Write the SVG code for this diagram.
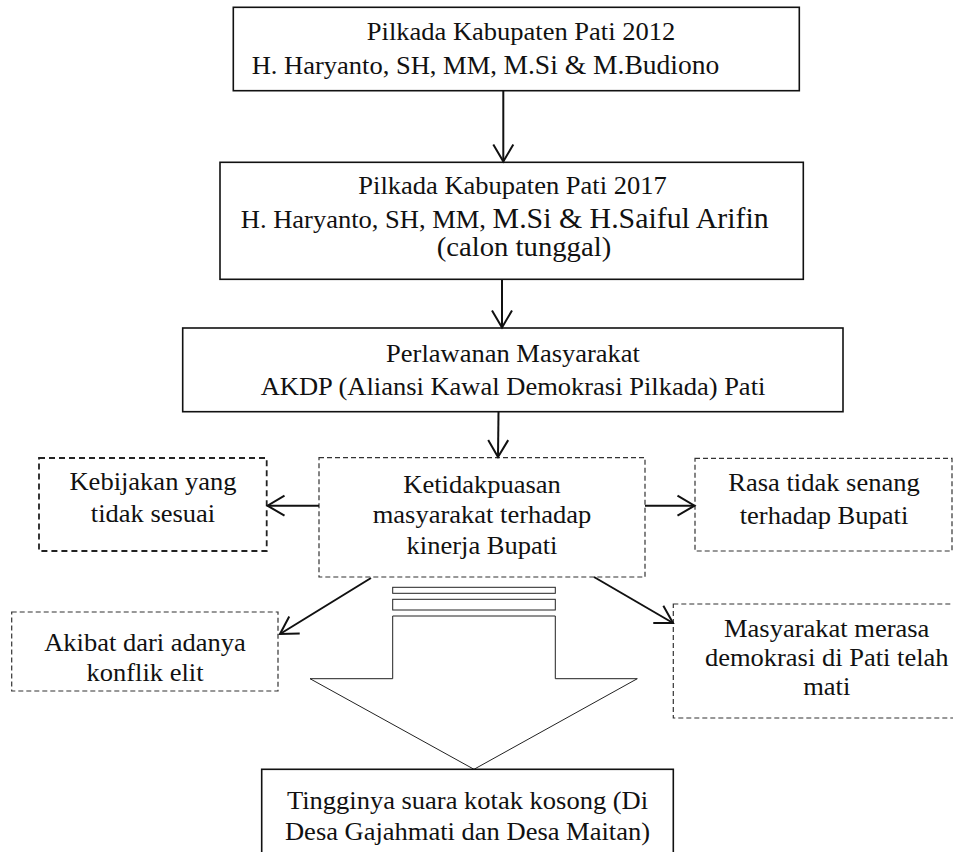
<svg xmlns="http://www.w3.org/2000/svg" width="953" height="852" viewBox="0 0 953 852">
<style>
  .solid { fill: #fff; stroke: #111; stroke-width: 1.6; }
  .dash1 { fill: #fff; stroke: #222; stroke-width: 1.8; stroke-dasharray: 6 4; }
  .dash2 { fill: #fff; stroke: #333; stroke-width: 1.2; stroke-dasharray: 5 3; }
  .t { font-family: "Liberation Serif", "Times New Roman", serif; font-size: 25.5px; fill: #111; text-anchor: middle; }
  .conn { stroke: #111; stroke-width: 2; fill: none; }
  .big { stroke: #222; stroke-width: 1; fill: #fff; }
</style>
<defs>
  <marker id="open" viewBox="-20 -12 22 24" refX="0" refY="0" markerWidth="22" markerHeight="24" markerUnits="userSpaceOnUse" orient="auto">
    <path d="M-17,-10 L0,0 L-17,10" fill="none" stroke="#111" stroke-width="2"/>
  </marker>
</defs>

<g id="node-pilkada2012">
  <rect class="solid" x="233.3" y="7.3" width="566" height="83.4"/>
  <text class="t" transform="translate(521 0) scale(1.04 1)"><tspan x="0" y="40">Pilkada Kabupaten Pati 2012</tspan></text>
  <text class="t" transform="translate(485.5 0) scale(1.04 1)"><tspan x="0" y="74">H. Haryanto, SH, MM, </tspan><tspan font-size="26.5">M.Si &amp; M.Budiono</tspan></text>
</g>

<g id="node-pilkada2017">
  <rect class="solid" x="220" y="162.3" width="583.3" height="117"/>
  <text class="t" transform="translate(512.5 0) scale(1.04 1)"><tspan x="0" y="194">Pilkada Kabupaten Pati 2017</tspan></text>
  <text class="t" transform="translate(504.7 0) scale(1.04 1)"><tspan x="0" y="228">H. Haryanto, SH, MM, </tspan><tspan font-size="28.7">M.Si &amp; H.Saiful Arifin</tspan></text>
  <text class="t" transform="translate(524 0) scale(1.04 1)"><tspan x="0" y="256" font-size="27.6">(calon tunggal)</tspan></text>
</g>

<g id="node-perlawanan">
  <rect class="solid" x="182.7" y="328" width="660.3" height="83.7"/>
  <text class="t" transform="translate(513 0) scale(1.04 1)"><tspan x="0" y="362">Perlawanan Masyarakat</tspan><tspan x="0" y="395">AKDP (Aliansi Kawal Demokrasi Pilkada) Pati</tspan></text>
</g>

<g id="node-ketidakpuasan">
  <rect class="dash2" x="319" y="457.7" width="326" height="119.3"/>
  <text class="t" transform="translate(482 0) scale(1.04 1)"><tspan x="0" y="493">Ketidakpuasan</tspan><tspan x="0" y="523">masyarakat terhadap</tspan><tspan x="0" y="554">kinerja Bupati</tspan></text>
</g>

<g id="node-kebijakan">
  <rect class="dash1" x="39" y="458" width="227.7" height="93"/>
  <text class="t" transform="translate(153 0) scale(1.04 1)"><tspan x="0" y="490">Kebijakan yang</tspan><tspan x="0" y="522">tidak sesuai</tspan></text>
</g>

<g id="node-rasa">
  <rect class="dash2" x="695" y="458.3" width="257" height="92.7"/>
  <text class="t" transform="translate(824 0) scale(1.04 1)"><tspan x="0" y="491">Rasa tidak senang</tspan><tspan x="0" y="524">terhadap Bupati</tspan></text>
</g>

<g id="node-akibat">
  <rect class="dash2" x="11.7" y="612" width="266.3" height="79"/>
  <text class="t" transform="translate(145 0) scale(1.04 1)"><tspan x="0" y="651">Akibat dari adanya</tspan><tspan x="0" y="681">konflik elit</tspan></text>
</g>

<g id="node-demokrasi">
  <rect class="dash2" x="673.3" y="604" width="312" height="114"/>
  <text class="t" transform="translate(826.7 0) scale(1.04 1)"><tspan x="0" y="637">Masyarakat merasa</tspan><tspan x="0" y="666">demokrasi di Pati telah</tspan><tspan x="0" y="695">mati</tspan></text>
</g>

<g id="node-bigarrow">
  <rect class="big" x="392.7" y="587.3" width="162.6" height="6"/>
  <rect class="big" x="392.7" y="599.3" width="162.6" height="10.7"/>
  <path class="big" d="M392.7,616 L555.3,616 L555.3,678.7 L637.3,678.7 L474,769.3 L310,678.7 L392.7,678.7 Z"/>
</g>

<g id="node-kotakkosong">
  <rect class="solid" x="261.7" y="769.3" width="411.6" height="110"/>
  <text class="t" transform="translate(467.5 0) scale(1.04 1)"><tspan x="0" y="809">Tingginya suara kotak kosong (Di</tspan><tspan x="0" y="840">Desa Gajahmati dan Desa Maitan)</tspan></text>
</g>

<g id="connectors">
  <line class="conn" x1="503.3" y1="91" x2="503.3" y2="161.5" marker-end="url(#open)"/>
  <line class="conn" x1="502" y1="280" x2="502" y2="327.5" marker-end="url(#open)"/>
  <line class="conn" x1="498.5" y1="412" x2="498" y2="457" marker-end="url(#open)"/>
  <line class="conn" x1="319" y1="505.7" x2="267.5" y2="505.7" marker-end="url(#open)"/>
  <line class="conn" x1="645" y1="505.7" x2="694.5" y2="505.7" marker-end="url(#open)"/>
  <line class="conn" x1="371" y1="578" x2="280" y2="634" marker-end="url(#open)"/>
  <line class="conn" x1="594" y1="577" x2="673" y2="623" marker-end="url(#open)"/>
</g>
</svg>
